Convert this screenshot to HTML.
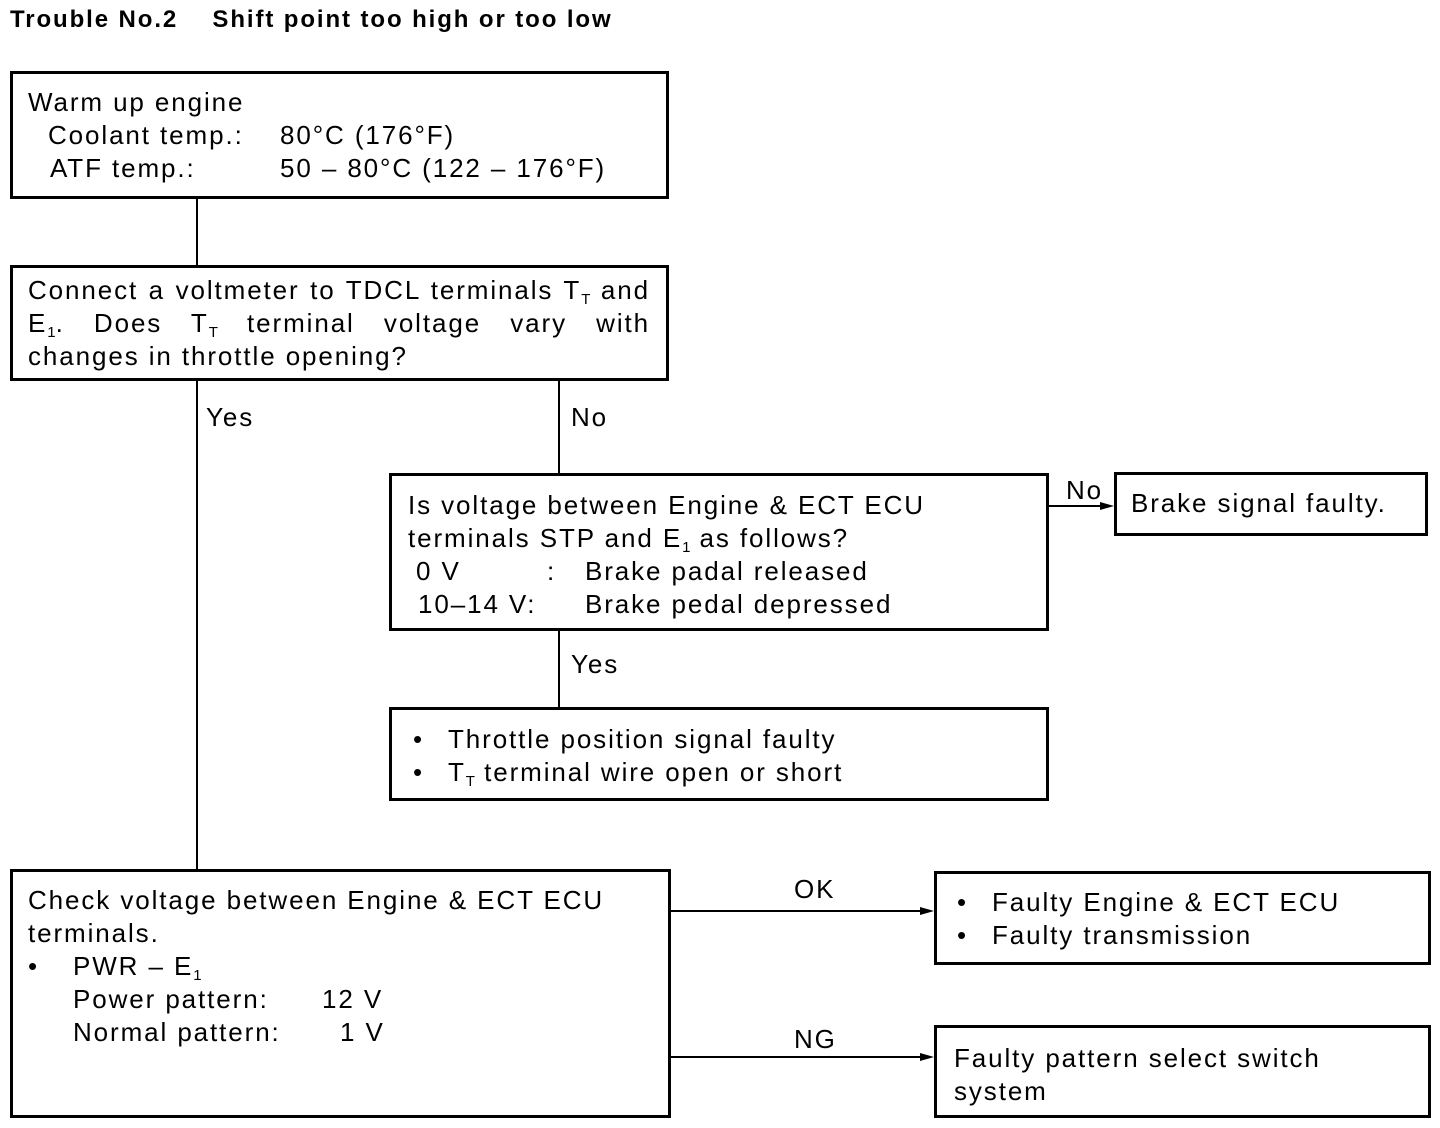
<!DOCTYPE html>
<html><head><meta charset="utf-8"><style>
body{margin:0;width:1440px;height:1128px;background:#fff;position:relative;font-family:"Liberation Sans",sans-serif;color:#000;overflow:hidden}
.b{position:absolute;border:3px solid #000;box-sizing:border-box}
.t{position:absolute;font-size:26px;line-height:33px;white-space:pre;letter-spacing:1.9px}
.v{position:absolute;width:2px;background:#000}
.h{position:absolute;height:2px;background:#000}
.j{display:block;text-align:justify;text-align-last:justify;white-space:normal}
sub{font-size:15px;vertical-align:-5px;line-height:0;letter-spacing:0}
.ar{position:absolute;width:0;height:0;border-top:4px solid transparent;border-bottom:4px solid transparent;border-left:14px solid #000}
</style></head><body>
<div class="t" style="left:10px;top:3px;font-weight:bold;font-size:24px;letter-spacing:1.9px">Trouble No.2    Shift point too high or too low</div>

<div class="b" style="left:10px;top:71px;width:659px;height:128px"></div>
<div class="t" style="left:28px;top:86px">Warm up engine</div>
<div class="t" style="left:48px;top:119px">Coolant temp.:</div>
<div class="t" style="left:280px;top:119px">80°C (176°F)</div>
<div class="t" style="left:50px;top:152px">ATF temp.:</div>
<div class="t" style="left:280px;top:152px">50 – 80°C (122 – 176°F)</div>

<div class="v" style="left:196px;top:198px;height:67px"></div>

<div class="b" style="left:10px;top:265px;width:659px;height:116px"></div>
<div class="t" style="left:28px;top:274px;width:622px;white-space:normal">
<span class="j">Connect a voltmeter to TDCL terminals T<sub>T</sub> and</span>
<span class="j">E<sub>1</sub>. Does T<sub>T</sub> terminal voltage vary with</span>
<span style="display:block">changes in throttle opening?</span></div>

<div class="v" style="left:196px;top:380px;height:489px"></div>
<div class="t" style="left:206px;top:401px">Yes</div>
<div class="v" style="left:558px;top:380px;height:93px"></div>
<div class="t" style="left:571px;top:401px">No</div>

<div class="b" style="left:389px;top:473px;width:660px;height:158px"></div>
<div class="t" style="left:408px;top:489px">Is voltage between Engine &amp; ECT ECU
terminals STP and E<sub>1</sub> as follows?</div>
<div class="t" style="left:416px;top:555px">0 V</div>
<div class="t" style="left:547px;top:555px">:</div>
<div class="t" style="left:585px;top:555px">Brake padal released</div>
<div class="t" style="left:418px;top:588px">10–14 V:</div>
<div class="t" style="left:585px;top:588px">Brake pedal depressed</div>

<div class="h" style="left:1048px;top:505px;width:60px"></div>
<div class="ar" style="left:1100px;top:502px"></div>
<div class="t" style="left:1066px;top:474px">No</div>
<div class="b" style="left:1114px;top:472px;width:314px;height:64px"></div>
<div class="t" style="left:1131px;top:487px">Brake signal faulty.</div>

<div class="v" style="left:558px;top:630px;height:77px"></div>
<div class="t" style="left:571px;top:648px">Yes</div>

<div class="b" style="left:389px;top:707px;width:660px;height:94px"></div>
<div class="t" style="left:413px;top:723px">•
•</div>
<div class="t" style="left:448px;top:723px">Throttle position signal faulty
T<sub>T</sub> terminal wire open or short</div>

<div class="b" style="left:10px;top:869px;width:661px;height:249px"></div>
<div class="t" style="left:28px;top:884px">Check voltage between Engine &amp; ECT ECU
terminals.
•</div>
<div class="t" style="left:73px;top:950px">PWR – E<sub>1</sub>
Power pattern:
Normal pattern:</div>
<div class="t" style="left:322px;top:983px">12 V</div>
<div class="t" style="left:340px;top:1016px">1 V</div>

<div class="h" style="left:670px;top:910px;width:256px"></div>
<div class="ar" style="left:920px;top:907px"></div>
<div class="t" style="left:794px;top:873px">OK</div>
<div class="b" style="left:934px;top:871px;width:497px;height:94px"></div>
<div class="t" style="left:957px;top:886px">•
•</div>
<div class="t" style="left:992px;top:886px">Faulty Engine &amp; ECT ECU
Faulty transmission</div>

<div class="h" style="left:670px;top:1056px;width:256px"></div>
<div class="ar" style="left:920px;top:1053px"></div>
<div class="t" style="left:794px;top:1023px">NG</div>
<div class="b" style="left:934px;top:1025px;width:497px;height:93px"></div>
<div class="t" style="left:954px;top:1042px">Faulty pattern select switch
system</div>
</body></html>
